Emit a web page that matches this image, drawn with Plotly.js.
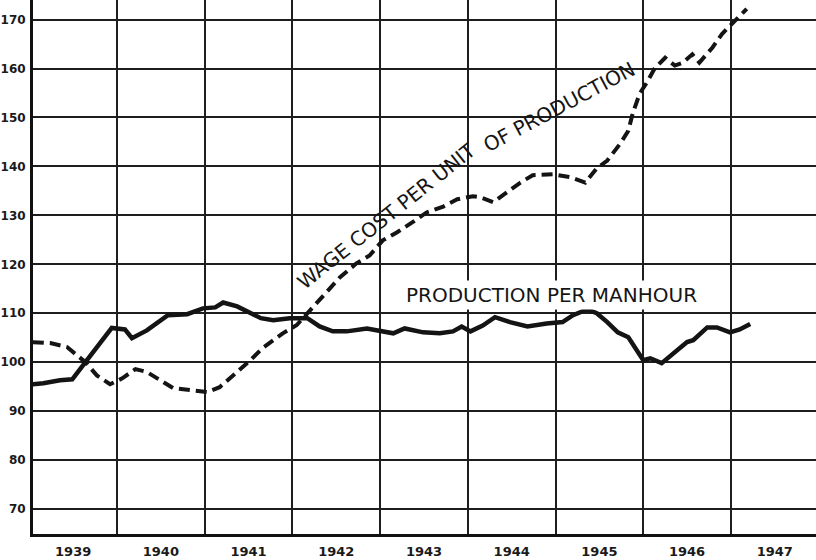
<!DOCTYPE html>
<html>
<head>
<meta charset="utf-8">
<script src="https://cdn.plot.ly/plotly-3.0.1.min.js"></script>
<style>html,body{margin:0;padding:0;background:#fff;}#chart{width:816px;height:560px;}</style>
</head>
<body>
<div id="chart"></div>
<script>
// Production per manhour (solid line)
const prodYears = [1939.04,1939.16,1939.35,1939.49,1939.64,1939.94,1940.09,1940.17,1940.34,1940.58,1940.80,1940.98,
  1941.12,1941.21,1941.37,1941.52,1941.64,1941.78,1941.89,1941.97,1942.17,1942.31,1942.46,1942.62,1942.85,
  1943.00,1943.15,1943.28,1943.49,1943.68,1943.83,1943.93,1944.03,1944.17,1944.31,1944.48,1944.68,1944.90,
  1945.08,1945.20,1945.36,1945.47,1945.59,1945.71,1945.83,1946.00,1946.08,1946.21,1946.34,1946.50,1946.57,
  1946.73,1946.84,1946.99,1947.10,1947.22];
const prodValues = [95.5,95.7,96.3,96.5,100,107,106.7,104.9,106.5,109.6,109.8,111,
  111.2,112.2,111.4,110.2,109,108.6,108.8,109,109,107.3,106.3,106.3,106.9,
  106.5,105.9,106.9,106.1,105.9,106.3,107.3,106.3,107.5,109.2,108.2,107.3,107.9,
  108.2,109.6,110.8,110,108.2,106.1,105.1,100.4,100.8,99.8,101.8,104.1,104.5,
  107.1,107.1,106.1,106.7,107.8];

// Wage cost per unit of production (dashed line)
const wageYears = [1939.04,1939.24,1939.43,1939.54,1939.64,1939.77,1939.92,
  1940.06,1940.21,1940.34,1940.49,1940.64,1940.83,
  1941.03,1941.17,1941.37,1941.52,1941.66,1941.89,
  1942.05,1942.23,1942.39,1942.54,1942.73,1942.88,
  1943.03,1943.19,1943.37,1943.53,1943.72,1943.88,
  1944.06,1944.14,1944.29,1944.45,1944.60,1944.74,1944.97,
  1945.17,1945.34,1945.47,1945.59,1945.74,1945.83,1945.88,1945.96,
  1946.04,1946.13,1946.25,1946.36,1946.45,1946.56,1946.64,1946.79,1946.90,
  1947.02,1947.18];
const wageValues = [104.1,103.9,103.1,101.4,100,97.3,95.5,
  96.7,98.6,98,96.3,94.7,94.3,
  93.9,94.9,98,100.4,102.9,105.9,
  107.6,111.2,114.3,117.3,120.2,121.8,
  124.9,126.5,128.6,130.6,131.8,133.3,
  133.9,133.7,132.7,134.7,136.7,138.2,138.4,
  137.8,136.7,139.6,141.2,144.7,147.3,150.8,154.9,
  157.1,160,162.2,160.6,161.2,162.9,161.2,164.3,167.1,
  169.4,172.2];

// Axis labels
const yearLabels = ["1939","1940","1941","1942","1943","1944","1945","1946","1947"];
const yearLabelPos = [1939.5,1940.5,1941.5,1942.5,1943.5,1944.5,1945.5,1946.5,1947.5];
const yTicks = [70,80,90,100,110,120,130,140,150,160,170];

const lineColor = '#141414';
const traces = [
  {x: prodYears, y: prodValues, type: 'scatter', mode: 'lines',
   line: {color: lineColor, width: 4.5}, hoverinfo: 'skip'},
  {x: wageYears, y: wageValues, type: 'scatter', mode: 'lines',
   line: {color: lineColor, width: 4, dash: '11px,6px'}, hoverinfo: 'skip'}
];

const xTickFont = {family: 'DejaVu Sans', size: 13, color: '#1a1a1a', weight: 'bold'};
const yTickFont = {family: 'DejaVu Sans', size: 12, color: '#1a1a1a', weight: 'bold'};
const labelFont = {family: 'DejaVu Sans', size: 20, color: '#151515'};

const layout = {
  width: 816, height: 560,
  margin: {l: 33, r: 0, t: 0, b: 26, pad: 0},
  paper_bgcolor: '#ffffff', plot_bgcolor: '#ffffff',
  showlegend: false,
  xaxis: {
    range: [1939.042, 1947.97],
    tickmode: 'array', tickvals: yearLabelPos, ticktext: yearLabels,
    showgrid: false, zeroline: false, ticks: '',
    ticklabelstandoff: 3,
    tickfont: xTickFont,
    showline: true, linecolor: '#111', linewidth: 3,
    minor: {tickmode: 'linear', tick0: 1939, dtick: 1, showgrid: true,
            gridcolor: '#1e1e1e', gridwidth: 2, ticks: ''}
  },
  yaxis: {
    range: [64.9, 174.0],
    tickmode: 'array', tickvals: yTicks,
    showgrid: true, gridcolor: '#1e1e1e', gridwidth: 2,
    zeroline: false, ticks: '', ticklabelstandoff: 2,
    tickfont: yTickFont,
    showline: true, linecolor: '#111', linewidth: 3
  },
  annotations: [
    {text: 'WAGE COST PER UNIT', xref: 'x', yref: 'y',
     x: 1943.073, y: 129.9, showarrow: false, textangle: -38.5,
     font: labelFont},
    {text: 'OF PRODUCTION', xref: 'x', yref: 'y',
     x: 1945.04, y: 152.2, showarrow: false, textangle: -28,
     font: labelFont},
    {text: 'PRODUCTION PER MANHOUR', xref: 'x', yref: 'y',
     x: 1944.95, y: 113.7, showarrow: false,
     font: labelFont, bgcolor: '#ffffff', borderpad: 2}
  ]
};

Plotly.newPlot('chart', traces, layout, {staticPlot: true, displayModeBar: false});
</script>
</body>
</html>
